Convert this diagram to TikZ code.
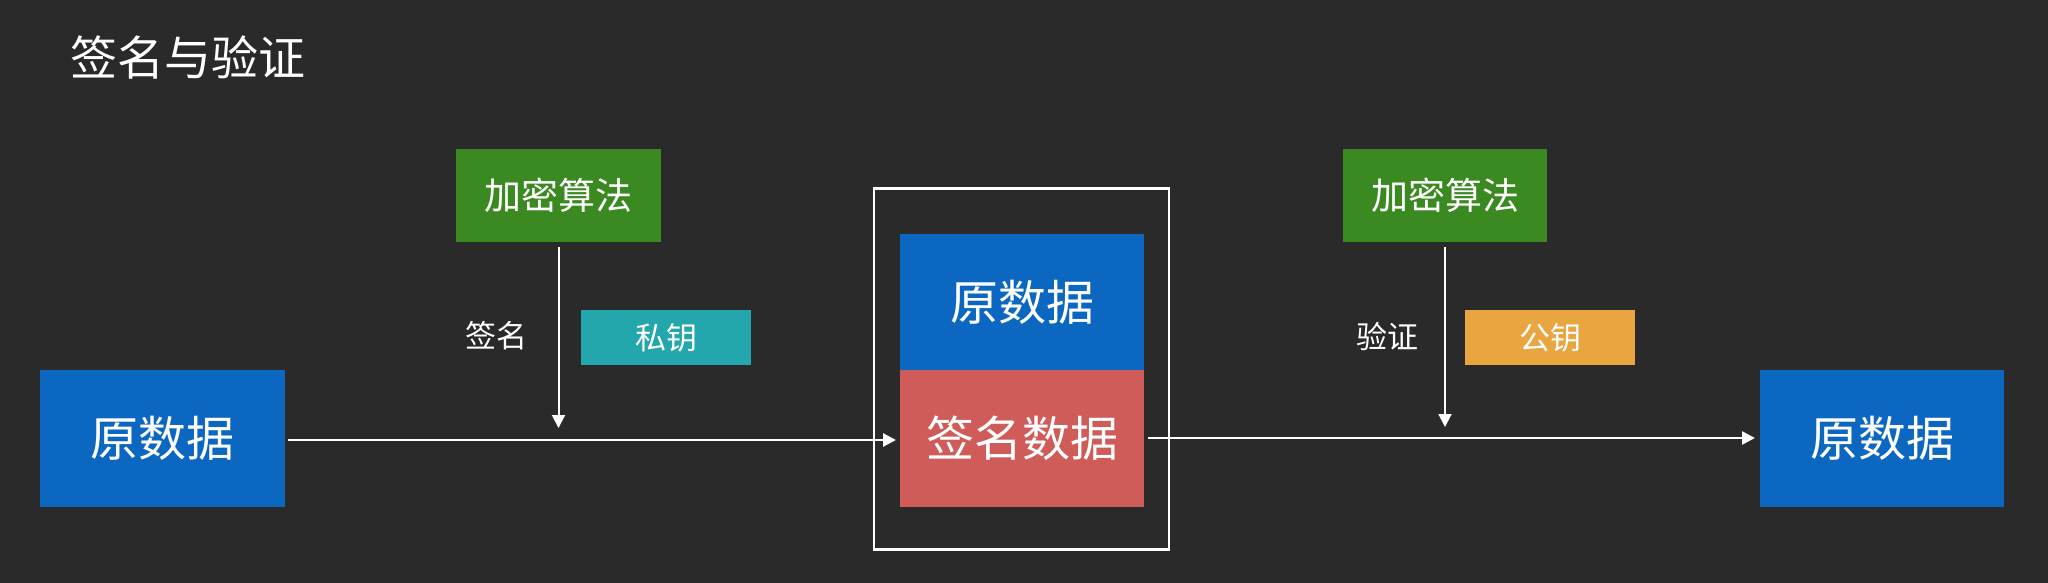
\documentclass[tikz,border=0pt]{standalone}
\usepackage{fontspec}
\setmainfont{Noto Sans CJK SC}
\usetikzlibrary{arrows.meta}
\definecolor{bg}{HTML}{2A2A2A}
\definecolor{cblue}{HTML}{0B67C0}
\definecolor{cred}{HTML}{D05C59}
\definecolor{cgreen}{HTML}{3B8921}
\definecolor{cteal}{HTML}{23A7AD}
\definecolor{corange}{HTML}{E8A540}
\tikzset{
  x=1pt,y=-1pt,
  box/.style={inner sep=0pt,outer sep=0pt,text=white,anchor=center},
  bigtxt/.style={font=\fontsize{48}{48}\selectfont},
  midtxt/.style={font=\fontsize{37}{37}\selectfont},
  smalltxt/.style={font=\fontsize{31}{31}\selectfont},
  flow/.style={draw=white,line width=2.6pt,-{Triangle[width=13pt,length=13pt]}},
  vflow/.style={draw=white,line width=2pt,-{Triangle[width=13pt,length=13pt]}},
}
\begin{document}
\begin{tikzpicture}
\fill[bg] (0,0) rectangle (2048,583);
\useasboundingbox (0,0) rectangle (2048,583);
\node[box,text=white,font=\fontsize{47}{47}\selectfont] (title) at (188,57) {签名与验证};
% left source
\node[box,bigtxt,fill=cblue,minimum width=245pt,minimum height=137pt] (src) at (162.5,438.5) {原数据};
% signing
\node[box,midtxt,fill=cgreen,minimum width=205pt,minimum height=93pt] (alg1) at (558.5,195.5) {加密算法};
\node[box,smalltxt,fill=cteal,minimum width=170pt,minimum height=55pt] (priv) at (666,337.5) {私钥};
\node[box,smalltxt] (lsign) at (496,336) {签名};
% middle package
\node[box,draw=white,line width=2.6pt,minimum width=295pt,minimum height=361pt] (pack) at (1021.5,369) {};
\node[box,bigtxt,fill=cblue,minimum width=244pt,minimum height=136pt] (orig) at (1022,302) {原数据};
\node[box,bigtxt,fill=cred,minimum width=244pt,minimum height=137pt] (sig) at (1022,438.5) {签名数据};
% verifying
\node[box,midtxt,fill=cgreen,minimum width=204pt,minimum height=93pt] (alg2) at (1445,195.5) {加密算法};
\node[box,smalltxt,fill=corange,minimum width=170pt,minimum height=55pt] (pub) at (1550,337.5) {公钥};
\node[box,smalltxt] (lver) at (1387,336) {验证};
% right result
\node[box,bigtxt,fill=cblue,minimum width=244pt,minimum height=137pt] (dst) at (1882,438.5) {原数据};
% connectors
\coordinate (m1) at (558.5,440);
\coordinate (m2) at (1445,438);
\draw[flow,shorten <=3pt,shorten >=4pt] (src.east |- 0,440) -- (sig.west |- 0,440);
\draw[flow,shorten <=4pt,shorten >=5pt] (sig.east |- 0,438) -- (dst.west |- 0,438);
\draw[vflow,shorten <=5pt,shorten >=12pt] (alg1.south) -- (m1);
\draw[vflow,shorten <=5pt,shorten >=11pt] (alg2.south) -- (m2);
\end{tikzpicture}
\end{document}
